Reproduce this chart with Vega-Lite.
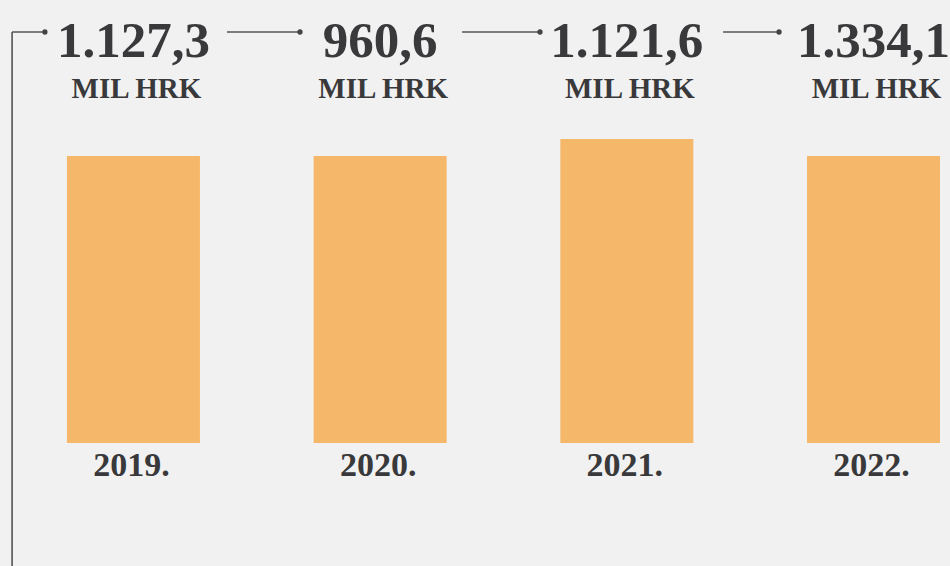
{
  "$schema": "https://vega.github.io/schema/vega-lite/v6.json",
  "width": 950,
  "height": 566,
  "autosize": {"type": "none"},
  "padding": 0,
  "background": "#f1f1f1",
  "config": {"view": {"stroke": null}},
  "datasets": {
    "years": [
      {"year": 2019, "bar": 100, "value": "1.127,3", "label": "2019."},
      {"year": 2020, "bar": 100, "value": "960,6", "label": "2020."},
      {"year": 2021, "bar": 105.9, "value": "1.121,6", "label": "2021."},
      {"year": 2022, "bar": 100, "value": "1.334,1", "label": "2022."}
    ],
    "links": [
      {"x1": 2018.508, "x2": 2018.641},
      {"x1": 2019.379, "x2": 2019.675},
      {"x1": 2020.332, "x2": 2020.648},
      {"x1": 2021.39, "x2": 2021.617}
    ]
  },
  "layer": [
    {
      "data": {"name": "years"},
      "mark": {"type": "bar", "width": 133, "color": "#f5b86a"},
      "encoding": {
        "x": {"field": "year", "type": "quantitative", "axis": null,
              "scale": {"domain": [2018.459, 2022.31], "nice": false, "zero": false, "padding": 0}},
        "y": {"field": "bar", "type": "quantitative", "axis": null,
              "scale": {"domain": [-42.86, 154.36], "nice": false, "zero": false, "padding": 0}},
        "y2": {"datum": 0}
      }
    },
    {
      "data": {"values": [{}]},
      "mark": {"type": "rule", "color": "#555557", "strokeWidth": 1.6},
      "encoding": {
        "x": {"datum": 2018.508, "type": "quantitative"},
        "y": {"datum": 143.21, "type": "quantitative"},
        "y2": {"datum": -42.86}
      }
    },
    {
      "data": {"name": "links"},
      "mark": {"type": "rule", "color": "#555557", "strokeWidth": 1.6},
      "encoding": {
        "x": {"field": "x1", "type": "quantitative"},
        "x2": {"field": "x2"},
        "y": {"datum": 143.21, "type": "quantitative"}
      }
    },
    {
      "data": {"name": "links"},
      "mark": {"type": "point", "filled": true, "color": "#444446", "size": 28, "opacity": 1},
      "encoding": {
        "x": {"field": "x2", "type": "quantitative"},
        "y": {"datum": 143.21, "type": "quantitative"}
      }
    },
    {
      "data": {"name": "years"},
      "mark": {"type": "text", "font": "Liberation Serif", "fontWeight": "bold", "fontSize": 51, "color": "#39393b", "baseline": "alphabetic", "align": "center"},
      "encoding": {
        "x": {"field": "year", "type": "quantitative"},
        "y": {"datum": 134.5, "type": "quantitative"},
        "text": {"field": "value"}
      }
    },
    {
      "data": {"name": "years"},
      "mark": {"type": "text", "font": "Liberation Serif", "fontWeight": "bold", "fontSize": 29, "color": "#39393b", "baseline": "alphabetic", "align": "center", "dx": 3},
      "encoding": {
        "x": {"field": "year", "type": "quantitative"},
        "y": {"datum": 120.2, "type": "quantitative"},
        "text": {"value": "MIL HRK"}
      }
    },
    {
      "data": {"name": "years"},
      "mark": {"type": "text", "font": "Liberation Serif", "fontWeight": "bold", "fontSize": 34, "color": "#39393b", "baseline": "alphabetic", "align": "center", "dx": -2},
      "encoding": {
        "x": {"field": "year", "type": "quantitative"},
        "y": {"datum": -11.6, "type": "quantitative"},
        "text": {"field": "label"}
      }
    }
  ]
}
